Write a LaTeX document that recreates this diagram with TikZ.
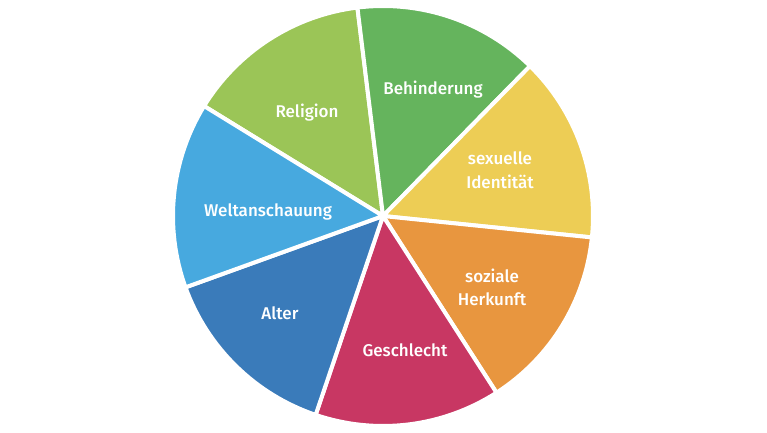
\documentclass[tikz,border=0pt]{standalone}
\usepackage{fontspec}
\setmainfont{Fira Sans}[UprightFont=* Medium]
\definecolor{cReligion}{HTML}{9BC557}
\definecolor{cBehind}{HTML}{65B45D}
\definecolor{cSex}{HTML}{EDCD55}
\definecolor{cSoz}{HTML}{E8963F}
\definecolor{cGes}{HTML}{C83763}
\definecolor{cAlter}{HTML}{3A7BBA}
\definecolor{cWelt}{HTML}{47A9DF}
\tikzset{
  slice/.style={draw=white, line width=4pt, line join=round},
  lbl/.style={text=white, font=\fontsize{17}{23.5}\selectfont, align=center, inner sep=0pt}
}
\newcommand{\pieslice}[3]{%
  \fill[#1] (383,216) -- ++(#2:210) arc[start angle=#2, end angle=#3, radius=210] -- cycle;
  \draw[slice] (383,216) -- ++(#2:210) arc[start angle=#2, end angle=#3, radius=210] -- cycle;
}
\begin{document}
\begin{tikzpicture}[x=1pt,y=1pt]
\fill[white] (0,0) rectangle (767,432);
\useasboundingbox (0,0) rectangle (767,432);
\pieslice{cReligion}{97}{148.43}
\pieslice{cBehind}{45.57}{97}
\pieslice{cSex}{-5.86}{45.57}
\pieslice{cSoz}{-57.29}{-5.86}
\pieslice{cGes}{-108.71}{-57.29}
\pieslice{cAlter}{-160.14}{-108.71}
\pieslice{cWelt}{148.43}{199.86}
\node[lbl] (behinderung) at (433,342) {Behinderung};
\node[lbl] (religion) at (307,319) {Religion};
\node[lbl] (sexuell) at (500,262) {sexuelle\\Identität};
\node[lbl] (welt) at (268,220) {Weltanschauung};
\node[lbl] (sozial) at (492,144.5) {soziale\\Herkunft};
\node[lbl] (alter) at (280,119) {Alter};
\node[lbl] (geschlecht) at (405,82) {Geschlecht};
\end{tikzpicture}
\end{document}
